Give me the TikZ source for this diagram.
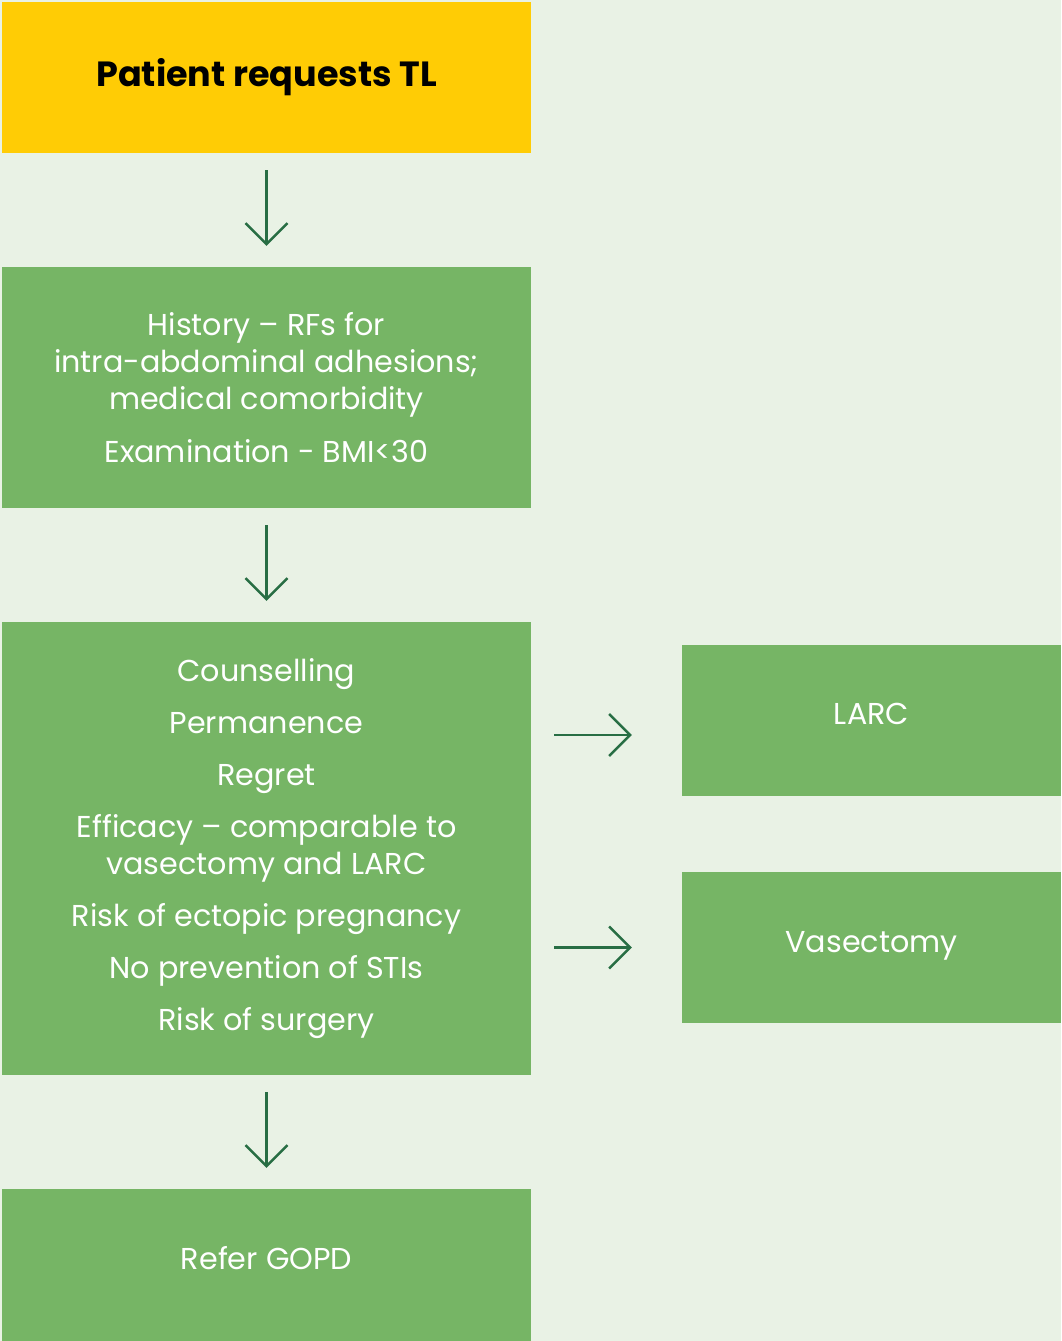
\documentclass[tikz,border=0pt]{standalone}
\usepackage{fontspec}
\setmainfont{Poppins}
\usetikzlibrary{arrows.meta}

\definecolor{pageGreen}{RGB}{233,242,229}
\definecolor{boxGreen}{RGB}{118,181,101}
\definecolor{topYellow}{RGB}{255,204,5}
\definecolor{arrowGreen}{RGB}{40,110,68}

\begin{document}
\begin{tikzpicture}[x=1pt,y=-1pt,
    box/.style={fill=boxGreen, text=white, align=center, inner sep=0pt,
        font=\fontsize{30.2}{37}\selectfont},
    arr/.style={draw=arrowGreen, line width=2.4pt,
        -{Straight Barb[length=21pt,width=42pt]}}]
    \fill[pageGreen] (0,0) rectangle (1061,1341);
    % left column
    \node[box, fill=topYellow, text=black, minimum width=529pt, minimum height=151pt,
        font=\fontsize{35}{37}\selectfont\bfseries] (top) at (266.5,77.5) {Patient requests TL};
    \node[box, minimum width=529pt, minimum height=241pt] (hist) at (266.5,387.5)
        {History -- RFs for\\intra-abdominal adhesions;\\medical comorbidity\\[16pt]Examination - BMI<30};
    \node[box, minimum width=529pt, minimum height=453pt] (couns) at (266.5,848.5)
        {Counselling\\[15pt]Permanence\\[15pt]Regret\\[15pt]Efficacy -- comparable to\\vasectomy and LARC\\[15pt]Risk of ectopic pregnancy\\[15pt]No prevention of STIs\\[15pt]Risk of surgery};
    \node[box, minimum width=529pt, minimum height=152pt, text depth=14pt] (refer) at (266.5,1265) {Refer GOPD};
    % right column
    \node[box, minimum width=379pt, minimum height=151pt, text depth=14pt] (larc) at (871.5,720.5) {LARC};
    \node[box, minimum width=379pt, minimum height=151pt, text depth=12pt] (vas) at (871.5,947.5) {Vasectomy};
    \coordinate (larcrow) at (0,735);
    \draw[arr, shorten <=17pt, shorten >=21pt] (top) -- (hist);
    \draw[arr, shorten <=17pt, shorten >=21pt] (hist) -- (couns);
    \draw[arr, shorten <=17pt, shorten >=21pt] (couns) -- (refer);
    \draw[arr, shorten <=23pt, shorten >=50pt] (couns.east |- larcrow) -- (larc.west |- larcrow);
    \draw[arr, shorten <=23pt, shorten >=50pt] (couns.east |- vas) -- (vas.west);
\end{tikzpicture}
\end{document}
